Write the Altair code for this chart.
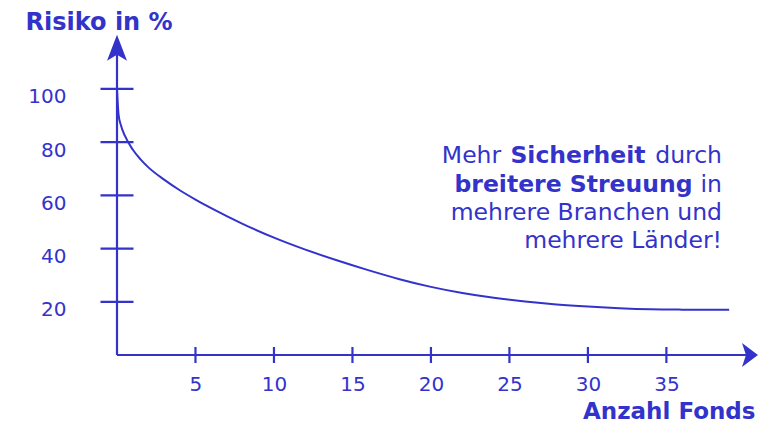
import altair as alt
import pandas as pd

BLUE = "#3333cc"
FONT = "DejaVu Sans"

# curve: number of funds vs. risk in %
fonds = [0, 0.1, 0.25, 0.5, 1, 1.5, 2, 3, 4, 5, 6, 8, 10, 12, 14, 16, 18, 20, 22, 24, 26, 28, 30, 32,
         34, 36, 38, 39]
risiko = [100, 90.3, 86.3, 82.4, 77.2, 73.5, 70.5, 65.9, 61.9, 58.4, 55.2, 49.3, 44.1, 39.6, 35.6, 31.9,
          28.5, 25.6, 23.3, 21.5, 20.1, 19.0, 18.2, 17.6, 17.2, 17.05, 17, 17]

x_ticks = [5, 10, 15, 20, 25, 30, 35]
y_ticks = [20, 40, 60, 80, 100]

x_title = "Anzahl Fonds"
y_title = "Risiko in %"

x_axis_end = 40.07   # where the x arrow sits
y_axis_end = 115.5   # where the y arrow sits

curve = pd.DataFrame({"x": fonds, "y": risiko})

xs = alt.Scale(domain=[0, 40.9], nice=False, zero=True)
ys = alt.Scale(domain=[0, 119.5], nice=False, zero=True)

x_enc = alt.X("x:Q", scale=xs, axis=alt.Axis(
    values=x_ticks, domain=False, ticks=False, grid=False,
    labelFontSize=20, labelColor=BLUE, labelFont=FONT, labelPadding=19,
    title=x_title, titleX=638, titleY=63, titleAlign="right", titleBaseline="alphabetic",
    titleAngle=0, titleFontSize=23, titleFontWeight="bold", titleColor=BLUE, titleFont=FONT))
y_enc = alt.Y("y:Q", scale=ys, axis=alt.Axis(
    values=y_ticks, domain=False, ticks=False, grid=False,
    labelFontSize=20, labelColor=BLUE, labelFont=FONT, labelPadding=51, labelOffset=8,
    title=y_title, titleX=-92, titleY=-8, titleAlign="left", titleBaseline="alphabetic",
    titleAngle=0, titleFontSize=24, titleFontWeight="bold", titleColor=BLUE, titleFont=FONT))

line = alt.Chart(curve).mark_line(color=BLUE, strokeWidth=2, interpolate="monotone").encode(x=x_enc, y=y_enc)

y_axis_line = alt.Chart(pd.DataFrame({"x": [0], "y": [0], "y2": [y_axis_end - 2.6]})).mark_rule(
    color=BLUE, strokeWidth=2.2).encode(x="x:Q", y="y:Q", y2="y2:Q")
x_axis_line = alt.Chart(pd.DataFrame({"x": [0], "x2": [x_axis_end], "y": [0]})).mark_rule(
    color=BLUE, strokeWidth=2.2).encode(x="x:Q", x2="x2:Q", y="y:Q")

y_tick_marks = alt.Chart(pd.DataFrame({"x": [0] * len(y_ticks), "y": y_ticks})).mark_tick(
    color=BLUE, orient="horizontal", size=33, thickness=2.2, opacity=1).encode(x="x:Q", y="y:Q")
x_tick_marks = alt.Chart(pd.DataFrame({"x": x_ticks, "y": [0] * len(x_ticks)})).mark_tick(
    color=BLUE, orient="vertical", size=16, thickness=2.2, opacity=1).encode(x="x:Q", y="y:Q")

up_arrow = alt.Chart(pd.DataFrame({"x": [0], "y": [y_axis_end]})).mark_point(
    shape="M0,-1 L0.77,1 L0,0.54 L-0.77,1 Z", size=676, filled=True, opacity=1, color=BLUE,
    strokeWidth=0).encode(x="x:Q", y="y:Q")
right_arrow = alt.Chart(pd.DataFrame({"x": [x_axis_end], "y": [0]})).mark_point(
    shape="M1,0 L-0.33,-1 L0,0 L-0.33,1 Z", size=576, filled=True, opacity=1, color=BLUE,
    strokeWidth=0).encode(x="x:Q", y="y:Q")


def note(text, x, y, bold=False, align="right"):
    return alt.Chart(pd.DataFrame({"t": [text]})).mark_text(
        x=x, y=y, align=align, baseline="alphabetic", font=FONT, fontSize=23.5,
        fontWeight="bold" if bold else "normal", color=BLUE).encode(text="t:N")


notes = [
    note("Mehr", 354.5, 126.3, align="center"),
    note("Sicherheit", 461, 126.3, bold=True, align="center"),
    note("durch", 605, 126.3),
    note("breitere Streuung", 456.5, 154.7, bold=True, align="center"),
    note("in", 605, 154.7),
    note("mehrere Branchen und", 605, 183),
    note("mehrere Länder!", 605, 211.3),
]

chart = alt.layer(
    line, y_axis_line, x_axis_line, y_tick_marks, x_tick_marks, up_arrow, right_arrow, *notes
).properties(
    width=642, height=318, autosize="none",
    padding={"left": 109, "top": 29, "right": 0, "bottom": 68},
    background="white",
).configure_view(stroke=None)

chart.save("out.html", embed_options={"renderer": "svg", "actions": False})
